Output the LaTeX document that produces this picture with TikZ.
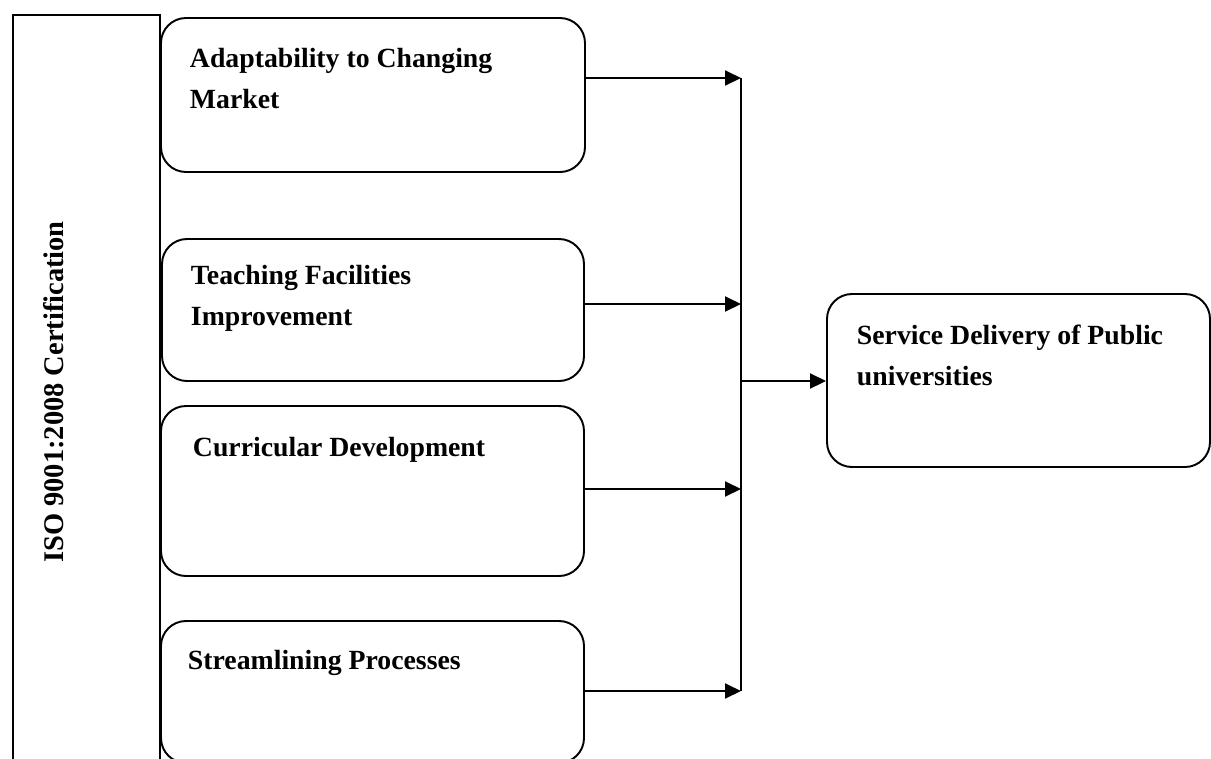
\documentclass[tikz,border=0pt]{standalone}
\usepackage{fontspec}
\setmainfont{Liberation Serif}
\usetikzlibrary{arrows.meta}
\begin{document}
\begin{tikzpicture}[x=0.02cm,y=-0.02cm,
  line width=1.1pt,
  factorbox/.style={draw, rounded corners=0.5cm, inner sep=0pt},
  boxlabel/.style={inner sep=0pt, anchor=base west, align=left,
    font=\fontsize{15.8}{23.3}\selectfont\bfseries},
  flow/.style={-{Triangle[length=0.32cm,width=0.3cm]}}]
\useasboundingbox (0,0) rectangle (1211,758);
\clip (0,0) rectangle (1211,758);

% open frame for the certification label
\draw (13,770) -- (13,15) -- (160,15) -- (160,770);
\node[inner sep=0pt, rotate=90, anchor=base,
      font=\fontsize{16.2}{20}\selectfont\bfseries] (iso) at (63,392)
  {ISO 9001:2008 Certification};

% factor boxes
\node[factorbox, minimum width=424*0.02cm, minimum height=154*0.02cm] (b1) at (373,95) {};
\node[factorbox, minimum width=422*0.02cm, minimum height=142*0.02cm] (b2) at (373,310) {};
\node[factorbox, minimum width=423*0.02cm, minimum height=170*0.02cm] (b3) at (372.5,491) {};
\node[factorbox, minimum width=423*0.02cm, minimum height=142*0.02cm] (b4) at (372.5,692) {};
\node[factorbox, minimum width=383*0.02cm, minimum height=173*0.02cm] (sd) at (1018.5,380.5) {};

% labels (anchored on the baseline of their last line)
\node[boxlabel] (t1) at (189,108) {Adaptability to Changing\\Market};
\node[boxlabel] (t2) at (190,325) {Teaching Facilities\\Improvement};
\node[boxlabel] (t3) at (192,456) {Curricular Development};
\node[boxlabel] (t4) at (187,669) {Streamlining Processes};
\node[boxlabel] (t5) at (856,385) {Service Delivery of Public\\universities};

% collector line and arrows
\coordinate (j1) at (741,78);
\coordinate (j2) at (741,304);
\coordinate (j3) at (741,489);
\coordinate (j4) at (741,691);
\coordinate (jm) at (741,381);

\draw[flow] (b1.east |- j1) -- (j1);
\draw[flow] (b2.east |- j2) -- (j2);
\draw[flow] (b3.east |- j3) -- (j3);
\draw[flow] (b4.east |- j4) -- (j4);
\draw (j1) -- (j4);
\draw[flow] (jm) -- (sd.west |- jm);
\end{tikzpicture}
\end{document}
